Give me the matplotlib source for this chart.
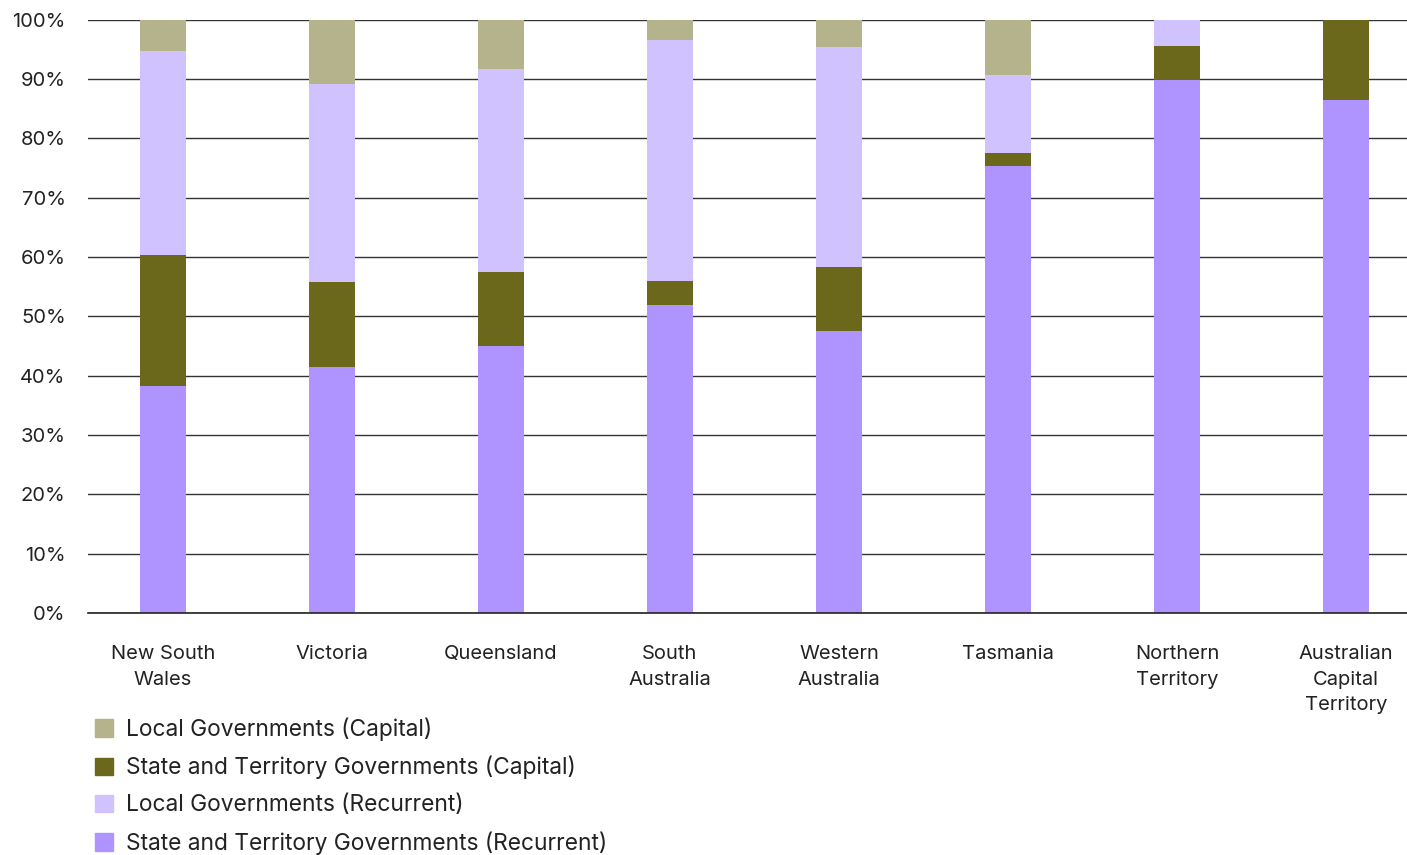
import numpy as np
import matplotlib.pyplot as plt
from matplotlib.patches import Patch

plt.rcParams['font.family'] = ['Inter', 'DejaVu Sans']

states = ['New South\nWales', 'Victoria', 'Queensland', 'South\nAustralia',
          'Western\nAustralia', 'Tasmania', 'Northern\nTerritory',
          'Australian\nCapital\nTerritory']
state_rec = [38.3, 41.5, 45.0, 51.9, 47.6, 75.4, 89.9, 86.5]
state_cap = [22.1, 14.3, 12.5, 4.1, 10.7, 2.2, 5.7, 13.5]
local_rec = [34.4, 33.4, 34.2, 40.6, 37.1, 13.0, 4.4, 0.0]
local_cap = [5.2, 10.8, 8.3, 3.4, 4.6, 9.4, 0.0, 0.0]

series = [('State and Territory Governments (Recurrent)', state_rec, '#af94ff'),
          ('State and Territory Governments (Capital)', state_cap, '#6b681c'),
          ('Local Governments (Recurrent)', local_rec, '#cfc2ff'),
          ('Local Governments (Capital)', local_cap, '#b5b38c')]
legend_order = [3, 1, 2, 0]

fig = plt.figure(figsize=(14.07, 8.55), dpi=100)
ax = fig.add_axes([0.0625, 0.283, 0.9375, 0.694])

x = np.arange(len(states))
bottom = np.zeros(len(states))
for name, vals, col in series:
    ax.bar(x, vals, 0.27, bottom=bottom, color=col, zorder=3)
    bottom += np.array(vals)

ax.set_ylim(0, 100)
ax.set_xlim(-0.444, 7.361)
ax.set_yticks(np.arange(0, 101, 10))
ax.set_yticklabels([f'{v}%' for v in range(0, 101, 10)])
ax.set_xticks(x)
ax.set_xticklabels(states, linespacing=1.55)
ax.yaxis.grid(True, color='#333333', linewidth=1, zorder=0)
ax.axhline(0, color='#222222', linewidth=1.2, zorder=4, clip_on=False)
ax.tick_params(axis='both', length=0, labelsize=14.5, colors='#222222')
ax.tick_params(axis='x', pad=23)
ax.tick_params(axis='y', pad=16)
for s in ax.spines.values():
    s.set_visible(False)

handles = [Patch(color=series[i][2], label=series[i][0]) for i in legend_order]
fig.legend(handles=handles, loc='upper left', bbox_to_anchor=(0.053, 0.185),
           frameon=False, fontsize=16.4, handlelength=0.8, handleheight=0.8,
           handletextpad=0.55, labelspacing=0.66, labelcolor='#222222')

fig.savefig('out.png', dpi=100)
